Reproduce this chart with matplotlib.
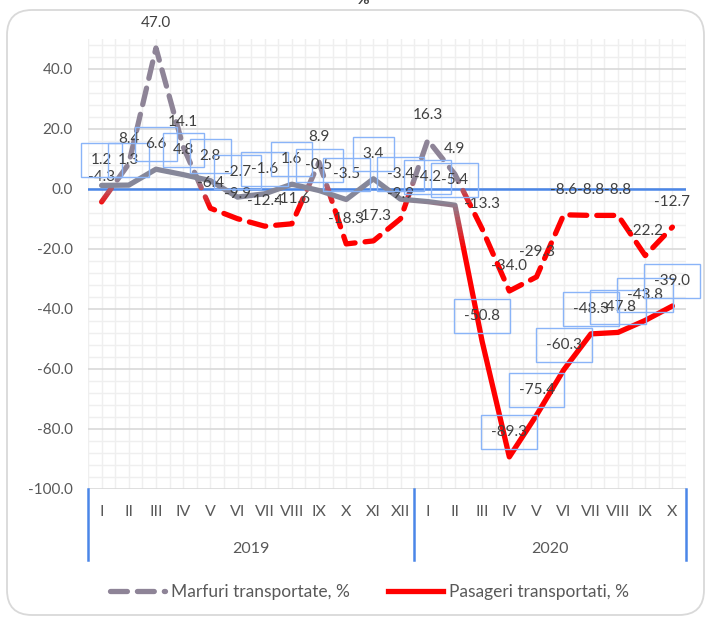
import matplotlib.pyplot as plt
import numpy as np
from matplotlib.patches import Rectangle, FancyBboxPatch
from matplotlib.lines import Line2D
from matplotlib.colors import to_rgb
from matplotlib.ticker import FuncFormatter, MultipleLocator

plt.rcParams['font.family'] = ['Lato', 'DejaVu Sans']

# Data
months_2019 = ['I', 'II', 'III', 'IV', 'V', 'VI', 'VII', 'VIII', 'IX', 'X', 'XI', 'XII']
months_2020 = ['I', 'II', 'III', 'IV', 'V', 'VI', 'VII', 'VIII', 'IX', 'X']
years = ['2019', '2020']
marfuri = [-4.3, 8.4, 47.0, 14.1, -6.4, -9.9, -12.4, -11.6, 8.9, -18.3, -17.3, -9.9,
           16.3, 4.9, -13.3, -34.0, -29.3, -8.6, -8.8, -8.8, -22.2, -12.7]
pasageri = [1.2, 1.3, 6.6, 4.8, 2.8, -2.7, -1.6, 1.6, -0.5, -3.5, 3.4, -3.4,
            -4.2, -5.4, -50.8, -89.3, -75.4, -60.3, -48.3, -47.8, -43.8, -39.0]
labels = ['Marfuri transportate, %', 'Pasageri transportati, %']

months = months_2019 + months_2020
x = np.arange(len(months))

GRAY_M = '#8E8497'
GRAY_P = '#868799'
RED = '#FF0000'
TXT = '#404040'


def gradient_line(ax, xs, ys, hi, lo, c_hi, c_lo, **kw):
    # draw the same line in horizontal bands, each clipped and coloured by height
    edges = [200] + list(np.linspace(hi, lo, 16)) + [-200]
    a, b = np.array(to_rgb(c_hi)), np.array(to_rgb(c_lo))
    for i in range(len(edges) - 1):
        top, bot = edges[i], edges[i + 1]
        mid = (top + bot) / 2
        t = np.clip((hi - mid) / (hi - lo), 0, 1)
        col = a * (1 - t) + b * t
        ln, = ax.plot(xs, ys, color=col, **kw)
        ln.set_clip_path(Rectangle((-1, bot), len(xs) + 2, top - bot,
                                   transform=ax.transData))


fig = plt.figure(figsize=(7.06, 6.2), dpi=100)
ax = fig.add_axes([88 / 706, 1 - 489 / 620, 598 / 706, 450 / 620])

# chart border
fig.patches.append(FancyBboxPatch((0.07, 0.05), 6.97, 6.05,
                                  boxstyle='round,pad=0,rounding_size=0.25',
                                  transform=fig.dpi_scale_trans, fc='none',
                                  ec='#D9D9D9', lw=1.3, zorder=0))
fig.text(363 / 706, 1.0, '%', ha='center', va='center', fontsize=11,
         fontweight='bold', color=TXT)

ax.set_xlim(-0.5, len(months) - 0.5)
ax.set_ylim(-100, 50)

# grid
ax.yaxis.set_major_locator(MultipleLocator(20))
ax.yaxis.set_minor_locator(MultipleLocator(4))
ax.set_xticks(np.arange(-0.5, len(months), 0.5), minor=True)
ax.set_xticks([])
ax.grid(which='minor', color='#EFEFEF', lw=1.0)
ax.grid(which='major', axis='y', color='#D9D9D9', lw=1.2)
ax.set_axisbelow(True)
ax.set_yticks(np.arange(-100, 41, 20))
ax.yaxis.set_major_formatter(FuncFormatter(lambda v, _: f'{v:.1f}'))
ax.tick_params(axis='y', which='both', length=0, pad=11, labelsize=11, labelcolor='#595959')
ax.tick_params(axis='x', which='both', length=0)
for s in ax.spines.values():
    s.set_visible(False)
ax.axhline(0, color='#4A86E8', lw=1.8, zorder=2)

# lines
gradient_line(ax, x, marfuri, 3, -6, GRAY_M, RED, lw=3.8, ls=(0, (3.2, 1.9)),
              dash_capstyle='round', solid_joinstyle='round', zorder=3)
gradient_line(ax, x, pasageri, -4, -20, GRAY_P, RED, lw=3.8,
              solid_capstyle='round', solid_joinstyle='round', zorder=4)

# data labels
for xi, v in zip(x, marfuri):
    ax.annotate(f'{v:.1f}', (xi, v), xytext=(0, 18), textcoords='offset points',
                ha='center', va='center', fontsize=11, color=TXT, zorder=6)
for xi, v in zip(x, pasageri):
    ax.annotate(f'{v:.1f}', (xi, v), xytext=(0, 18), textcoords='offset points',
                ha='center', va='center', fontsize=11, color=TXT, zorder=6,
                bbox=dict(boxstyle='square,pad=0.65', fc='none', ec='#8AB4F8', lw=1))

# multi-level category axis
xt = ax.get_xaxis_transform()
for xi, m in zip(x, months):
    ax.text(xi, -23 / 450, m, transform=xt, ha='center', va='center',
            fontsize=11.5, color='#595959')
ax.text(5.5, -60 / 450, years[0], transform=xt, ha='center', va='center',
        fontsize=11.5, color='#595959')
ax.text(16.5, -60 / 450, years[1], transform=xt, ha='center', va='center',
        fontsize=11.5, color='#595959')
for xs in [-0.5, len(months_2019) - 0.5, len(months) - 0.5]:
    ax.plot([xs, xs], [0, -71 / 450], transform=xt, color='#4A86E8', lw=1.8,
            clip_on=False)

# legend
handles = [Line2D([], [], color=GRAY_M, lw=3.8, ls=(0, (3.2, 1.9)), dash_capstyle='round'),
           Line2D([], [], color=RED, lw=3.8)]
fig.legend(handles, labels, loc='center', bbox_to_anchor=(0.523, 1 - 592 / 620),
           ncol=2, frameon=False, fontsize=12.5, labelcolor='#595959',
           handlelength=3.2, handletextpad=0.3, columnspacing=2.2)

fig.savefig('out.png', dpi=100)
